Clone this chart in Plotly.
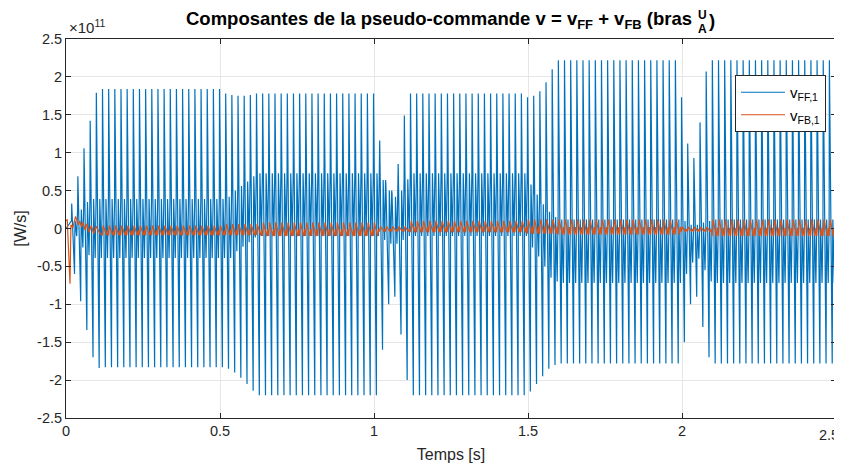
import plotly.graph_objects as go

# ---------------- data (values in units of 1e11 W/s) ----------------
PERIOD = 0.02            # s, one electrical cycle
FIRST_PEAK_T = 0.0185    # s, time of the first positive spike

# v_FF,1 : per-cycle levels
ff_peak_pos = ([0.33, 0.69, 1.06, 1.42, 1.79] + [1.84] * 20 +
               [1.78, 1.76, 1.75, 1.75, 1.76, 1.78] + [1.78] * 19 +
               [1.16, 0.59, 0.46, 0.85, 1.49] + [1.78] * 19 +
               [1.73, 1.75, 1.81, 1.93, 2.10] + [2.22] * 20 +
               [1.73, 1.12, 0.93, 1.40, 2.07] + [2.22] * 21)
ff_peak_neg = ([-0.60, -0.96, -1.34, -1.70, -1.84] + [-1.83] * 20 +
               [-1.85, -1.90, -1.97, -2.05, -2.14, -2.20] + [-2.20] * 19 +
               [-1.60, -1.00, -0.90, -1.40, -2.00] + [-2.20] * 19 +
               [-2.15, -2.05, -1.95, -1.85, -1.80] + [-1.78] * 20 +
               [-1.50, -1.00, -0.90, -1.30, -1.70] + [-1.78] * 21)
ff_band_hi = ([0.10, 0.25, 0.35, 0.39, 0.39] + [0.39] * 20 +
              [0.42, 0.50, 0.56, 0.62, 0.69, 0.73] + [0.73] * 19 +
              [0.64, 0.50, 0.42, 0.50, 0.65] + [0.73] * 19 +
              [0.58, 0.45, 0.32, 0.22, 0.15] + [0.12] * 20 +
              [0.10, 0.05, 0.05, 0.08, 0.10] + [0.12] * 21)
ff_band_lo = ([-0.10, -0.25, -0.35, -0.39, -0.39] + [-0.39] * 20 +
              [-0.39, -0.30, -0.24, -0.18, -0.12, -0.10] + [-0.10] * 19 +
              [-0.15, -0.20, -0.20, -0.15, -0.10] + [-0.10] * 19 +
              [-0.25, -0.37, -0.50, -0.65, -0.70] + [-0.72] * 20 +
              [-0.60, -0.45, -0.40, -0.55, -0.70] + [-0.72] * 21)
# waveform shape inside one cycle: (phase fraction, which level)
ff_shape = [(0.00, "hi"), (0.04, "pos"), (0.50, "neg"), (0.54, "lo"),
            (0.60, "hi"), (0.85, "lo"), (0.99, "hi")]

# v_FB,1 : start-up transient points, then per-cycle levels
fb_early_t = [0.0, 0.004, 0.013, 0.016, 0.022, 0.031, 0.040, 0.045, 0.050,
              0.056, 0.062, 0.068, 0.075, 0.082, 0.090, 0.098, 0.108]
fb_early_v = [0.10, 0.12, -0.73, 0.05, 0.01, 0.16, 0.05, 0.10, 0.02,
              0.08, -0.02, 0.06, -0.05, 0.04, -0.07, 0.03, -0.05]
FB_FIRST_CYCLE = 5
fb_hi = ([0.04] * 20 + [0.06] * 6 + [0.08] * 19 + [0.03] * 5 + [0.10] * 19 +
         [0.12] * 5 + [0.12] * 20 + [0.02] * 5 + [0.12] * 21)
fb_lo = ([-0.09] * 20 + [-0.09] * 6 + [-0.10] * 19 + [-0.04] * 5 + [-0.05] * 19 +
         [-0.07] * 5 + [-0.08] * 20 + [-0.04] * 5 + [-0.10] * 21)
fb_shape = [(0.00, "lo"), (0.15, "hi"), (0.45, "mid"), (0.70, "lo"), (0.85, "mid")]

x_ticks = [0, 0.5, 1, 1.5, 2, 2.5]
x_tick_labels = ["0", "0.5", "1", "1.5", "2", ""]
x_last_tick_label = "2.5"
y_ticks = [-2.5, -2, -1.5, -1, -0.5, 0, 0.5, 1, 1.5, 2, 2.5]
y_tick_labels = ["-2.5", "-2", "-1.5", "-1", "-0.5", "0", "0.5", "1", "1.5", "2", "2.5"]

# ---------------- build series ----------------
t_ff, v_ff = [0.0], [0.0]
for k in range(len(ff_peak_pos)):
    t0 = FIRST_PEAK_T - 0.04 * PERIOD + k * PERIOD
    lv = {"pos": ff_peak_pos[k], "neg": ff_peak_neg[k],
          "hi": ff_band_hi[k], "lo": ff_band_lo[k]}
    for ph, key in ff_shape:
        t_ff.append(t0 + ph * PERIOD)
        v_ff.append(lv[key])

t_fb, v_fb = list(fb_early_t), list(fb_early_v)
for i in range(len(fb_hi)):
    k = FB_FIRST_CYCLE + i
    t0 = FIRST_PEAK_T - 0.04 * PERIOD + k * PERIOD
    lv = {"hi": fb_hi[i], "lo": fb_lo[i], "mid": 0.5 * (fb_hi[i] + fb_lo[i])}
    for ph, key in fb_shape:
        t = t0 + ph * PERIOD
        if t > t_fb[-1]:
            t_fb.append(t)
            v_fb.append(lv[key])

FONT = "Liberation Sans, Arial, Helvetica, sans-serif"
TXT = "#262626"
GRID = "#e6e6e6"

# The page body has an 8 px default margin: the figure is shrunk by 8 px and
# all pixel targets (measured on the 842x466 screenshot) are shifted by 8 px.
OFF = 8
W, H = 842 - OFF, 466 - OFF
PLOT_X0, PLOT_X1, PLOT_Y0, PLOT_Y1 = 66, 836, 39, 418   # screenshot pixels
L, T = PLOT_X0 - OFF, PLOT_Y0 - OFF
R, B = W - (PLOT_X1 - OFF), H - (PLOT_Y1 - OFF)
PW, PH = W - L - R, H - T - B


def px(x):
    return (x - OFF - L) / PW


def py(y):
    return (H - B - (y - OFF)) / PH


fig = go.Figure()
fig.add_trace(go.Scatter(x=t_ff, y=v_ff, mode="lines", name="v<sub>FF,1</sub>",
                         line=dict(color="#0072BD", width=1.2)))
fig.add_trace(go.Scatter(x=t_fb, y=v_fb, mode="lines", name="v<sub>FB,1</sub>",
                         line=dict(color="#D95319", width=1.2)))

axis_common = dict(showline=True, linecolor=TXT, linewidth=1, mirror="allticks",
                   ticks="inside", ticklen=5, tickcolor=TXT, showgrid=True,
                   gridcolor=GRID, gridwidth=1, zeroline=False, automargin=False,
                   tickfont=dict(family=FONT, size=14.5, color=TXT))

fig.update_xaxes(range=[0, 2.5], tickvals=x_ticks, ticktext=x_tick_labels,
                 title=dict(text="Temps [s]", font=dict(family=FONT, size=16, color=TXT),
                            standoff=10),
                 **axis_common)
fig.update_yaxes(range=[-2.5, 2.5], tickvals=y_ticks, ticktext=y_tick_labels,
                 title=dict(text="[W/s]", font=dict(family=FONT, size=16, color=TXT),
                            standoff=6),
                 **axis_common)

fig.update_layout(
    width=W, height=H,
    margin=dict(l=L, r=R, t=T, b=B),
    paper_bgcolor="white", plot_bgcolor="white",
    font=dict(family=FONT, color=TXT),
    legend=dict(x=px(735), y=py(75), xanchor="left", yanchor="top",
                bgcolor="white", bordercolor=TXT, borderwidth=1,
                font=dict(family=FONT, size=15, color="#000000"),
                itemwidth=44),
    showlegend=True,
)

# last x tick label, pulled inside the page like MATLAB does at the edge
fig.add_annotation(text=x_last_tick_label, xref="paper", yref="paper",
                   x=px(841), y=py(435), xanchor="right", yanchor="middle",
                   showarrow=False, font=dict(family=FONT, size=14.5, color=TXT))

TITLE_FONT = dict(family=FONT, size=18.5, color="#000000")
fig.add_annotation(text="<b>Composantes de la pseudo-commande v = v<sub>FF</sub> + v<sub>FB</sub> (bras</b>",
                   xref="paper", yref="paper", x=px(184), y=py(20),
                   xanchor="left", yanchor="middle", showarrow=False, font=TITLE_FONT)
fig.add_annotation(text="<b>U</b>", xref="paper", yref="paper", x=px(702), y=py(15),
                   xanchor="center", yanchor="middle", showarrow=False,
                   font=dict(family=FONT, size=12, color="#000000"))
fig.add_annotation(text="<b>A</b>", xref="paper", yref="paper", x=px(702), y=py(29),
                   xanchor="center", yanchor="middle", showarrow=False,
                   font=dict(family=FONT, size=12, color="#000000"))
fig.add_annotation(text="<b>)</b>", xref="paper", yref="paper", x=px(712), y=py(20),
                   xanchor="center", yanchor="middle", showarrow=False, font=TITLE_FONT)
fig.add_annotation(text="×10<sup>11</sup>", xref="paper", yref="paper", x=px(67), y=py(38),
                   xanchor="left", yanchor="bottom", showarrow=False,
                   font=dict(family=FONT, size=15, color=TXT))

fig.write_html("out.html")
